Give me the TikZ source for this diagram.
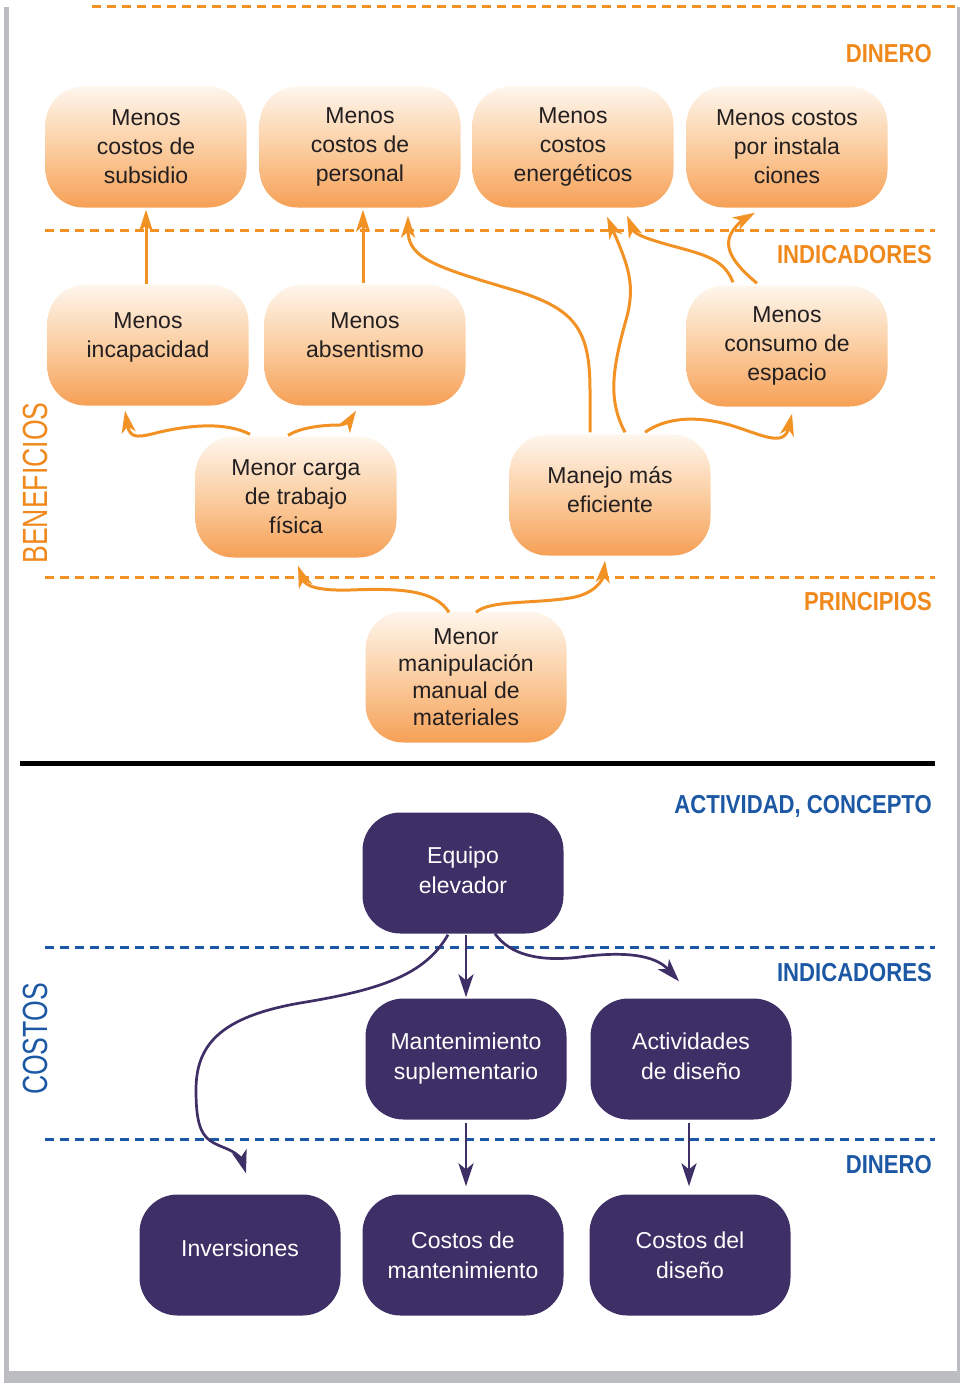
\documentclass[tikz,border=0pt]{standalone}
\usepackage{fontspec}
\setmainfont{Liberation Sans}
\newfontfamily\hdfont[FakeStretch=0.85]{Liberation Sans}
\newfontfamily\sidefont[FakeStretch=0.76]{Liberation Sans}
\usetikzlibrary{arrows.meta,calc}
\definecolor{og}{RGB}{243,146,36}
\definecolor{oglab}{RGB}{240,137,28}
\definecolor{ogtop}{RGB}{254,246,237}
\definecolor{ogmid}{RGB}{251,206,162}
\definecolor{ogbot}{RGB}{246,160,86}
\definecolor{pu}{RGB}{62,47,102}
\definecolor{bl}{RGB}{28,88,164}
\definecolor{fr}{RGB}{188,189,193}
\definecolor{tx}{RGB}{35,31,32}
\tikzset{
  obox/.style={rounded corners=38pt, minimum width=201pt, minimum height=121pt, inner sep=0pt,
    top color=ogtop, bottom color=ogbot, middle color=ogmid, draw=none,
    align=center, text=tx, font=\fontsize{23}{29}\selectfont},
  pbox/.style={rounded corners=38pt, minimum width=201pt, minimum height=121pt, inner sep=0pt,
    fill=pu, draw=none, align=center, text=white, font=\fontsize{23}{30}\selectfont},
  oarr/.style={draw=og, color=og, line width=3pt, -{Stealth[length=22pt,width=14pt,inset=6pt]}},
  parr/.style={draw=pu, color=pu, line width=2.7pt, -{Stealth[length=23pt,width=15pt,inset=6pt]}},
  odash/.style={draw=og, line width=3pt, dash pattern=on 9pt off 6pt},
  bdash/.style={draw=bl, line width=3pt, dash pattern=on 9pt off 6pt},
  olab/.style={anchor=base east, inner sep=0pt, text=oglab, font=\hdfont\bfseries\fontsize{26}{30}\selectfont},
  blab/.style={anchor=base east, inner sep=0pt, text=bl, font=\hdfont\bfseries\fontsize{26}{30}\selectfont},
  slab/.style={rotate=90, inner sep=0pt, font=\sidefont\fontsize{35}{40}\selectfont}
}
\begin{document}
\begin{tikzpicture}[x=1pt,y=-1pt]
\path[use as bounding box] (0,0) rectangle (960,1383);
% frame
\fill[fr] (4,7) rectangle (9,1383);
\fill[fr] (4,1371) rectangle (960,1383);
\fill[fr] (957,7) rectangle (960,1383);
% separators
\draw[odash] (92,7) -- (955,7);
\draw[odash] (45,230) -- (935,230);
\draw[odash] (45,577) -- (935,577);
\draw[line width=4.5pt] (20,763.5) -- (935,763.5);
\draw[bdash] (45,947) -- (935,947);
\draw[bdash] (45,1139) -- (935,1139);
% labels
\node[olab] (lbdin) at (932,63) {DINERO};
\node[olab] (lbind) at (932,263) {INDICADORES};
\node[olab] (lbpri) at (932,610) {PRINCIPIOS};
\node[blab] (lbact) at (932,813) {ACTIVIDAD, CONCEPTO};
\node[blab] (lbind2) at (932,981) {INDICADORES};
\node[blab] (lbdin2) at (932,1173) {DINERO};
\node[slab, text=oglab] (lbben) at (35,483) {BENEFICIOS};
\node[slab, text=bl] (lbcos) at (35,1039) {COSTOS};
% orange nodes
\node[obox] (n1) at (146,147) {Menos\\costos de\\subsidio};
\node[obox] (n2) at (360,147) {Menos\\costos de\\personal};
\node[obox] (n3) at (573,147) {Menos\\costos\\energéticos};
\node[obox] (n4) at (787,147) {Menos costos\\por instala\\ciones};
\node[obox] (n5) at (148,345) {Menos\\incapacidad\\[-10pt]};
\node[obox] (n6) at (365,345) {Menos\\absentismo\\[-10pt]};
\node[obox] (n7) at (787,346) {Menos\\consumo de\\espacio};
\node[obox] (n8) at (296,497) {Menor carga\\de trabajo\\física};
\node[obox] (n9) at (610,495) {Manejo más\\eficiente\\[-18pt]};
\node[obox, minimum height=131pt, font=\fontsize{23}{27}\selectfont] (n10) at (466,677) {Menor\\manipulación\\manual de\\materiales};
% purple nodes
\node[pbox] (n11) at (463,873) {Equipo\\elevador\\[-24pt]};
\node[pbox] (n12) at (466,1059) {Mantenimiento\\suplementario};
\node[pbox] (n13) at (691,1059) {Actividades\\de diseño\\[-24pt]};
\node[pbox] (n14) at (240,1255) {Inversiones\\[-16pt]};
\node[pbox] (n15) at (463,1255) {Costos de\\mantenimiento};
\node[pbox] (n16) at (690,1255) {Costos del\\diseño};
% orange arrows
\draw[oarr] (n1.south |- n5.north) -- ($(n1.south)+(0,2)$);
\draw[oarr] ($(n6.north)+(-2,-1)$) -- ($(n2.south)+(3,2)$);
\draw[oarr] ($(n9.north)+(-20,-2)$) -- (590,390) .. controls (590,330) and (575,310) .. (520,292)
  .. controls (440,268) and (408,260) .. ($(n2.south)+(48,8)$);
\draw[oarr] ($(n9.north)+(15,-2)$) .. controls (608,400) and (612,370) .. (626,320)
  .. controls (636,285) and (628,265) .. ($(n3.south)+(34,9)$);
\draw[oarr] ($(n7.north)+(-54,-3)$) .. controls (725,262) and (710,256) .. (680,248)
  .. controls (650,240) and (635,235) .. ($(n3.south)+(54,8)$);
\draw[oarr] ($(n7.north)+(-30,-2)$) .. controls (735,265) and (722,248) .. (732,232)
  .. controls (737,224) and (744,219) .. ($(n4.south)+(-32,5)$);
\draw[oarr] ($(n8.north)+(-46,-2)$) .. controls (230,424) and (200,423) .. (160,432)
  .. controls (140,437) and (130,440) .. ($(n5.south)+(-23,5)$);
\draw[oarr] ($(n8.north)+(-8,-1)$) .. controls (300,428) and (320,425) .. (340,425)
  .. controls (347,424) and (350,420) .. ($(n6.south)+(-9,5)$);
\draw[oarr] ($(n9.north)+(35,-2)$) .. controls (665,418) and (695,415) .. (730,425)
  .. controls (760,434) and (784,448) .. ($(n7.south)+(5,7)$);
\draw[oarr] ($(n10.north)+(-17,1)$) .. controls (435,590) and (400,588) .. (350,590)
  .. controls (315,591) and (305,585) .. ($(n8.south)+(2,8)$);
\draw[oarr] ($(n10.north)+(10,1)$) .. controls (490,600) and (530,604) .. (570,598)
  .. controls (595,594) and (603,580) .. ($(n9.south)+(-5,5)$);
% purple arrows
\draw[parr] ($(n11.south)+(3,1)$) -- ($(n12.north)+(0,-1)$);
\draw[parr] ($(n11.south)+(32,0)$) .. controls (510,955) and (540,962) .. (580,957)
  .. controls (625,951) and (655,955) .. ($(n13.north)+(-12,-17)$);
\draw[parr] ($(n11.south)+(-15,1)$) .. controls (425,975) and (380,990) .. (300,1003)
  .. controls (220,1017) and (196,1045) .. (196,1090)
  .. controls (196,1135) and (205,1140) .. (225,1148)
  .. controls (238,1153) and (242,1160) .. ($(n14.north)+(6,-21)$);
\draw[parr] ($(n12.south)+(0,3)$) -- ($(n15.north)+(3,-8)$);
\draw[parr] ($(n13.south)+(-2,3)$) -- ($(n16.north)+(-1,-8)$);
\end{tikzpicture}
\end{document}
